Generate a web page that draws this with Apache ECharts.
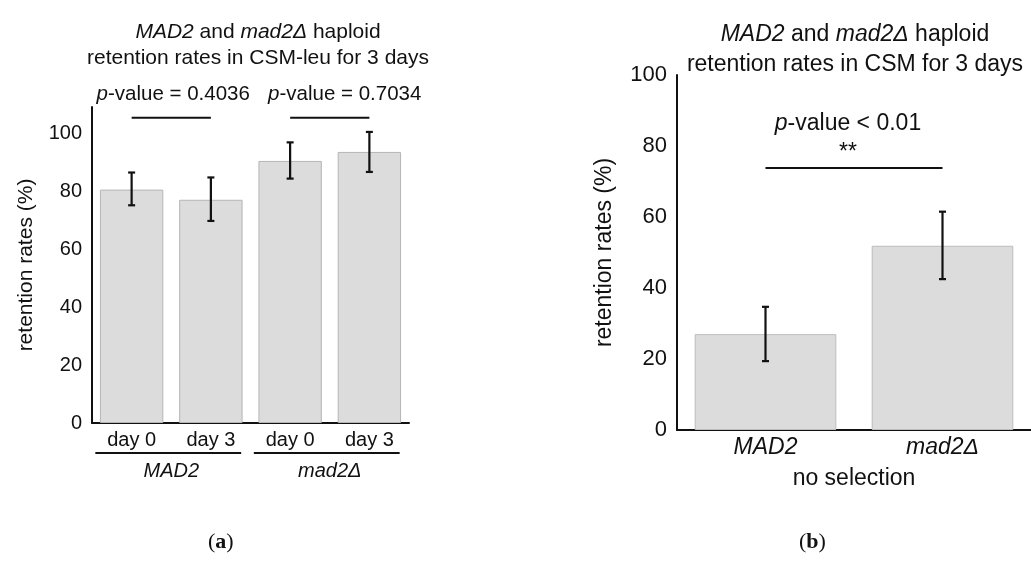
<!DOCTYPE html>
<html>
<head>
<meta charset="utf-8">
<script src="https://cdn.jsdelivr.net/npm/echarts@6/dist/echarts.min.js"></script>
<style>
  html, body { margin: 0; padding: 0; background: #fff; }
  #chart { width: 1031px; height: 562px; }
</style>
</head>
<body>
<div id="chart"></div>
<script>
// panel (a): CSM-leu
const leftCats = ['day 0', 'day 3', 'day 0', 'day 3'];
const leftGroups = ['MAD2', 'mad2Δ'];
const leftMeans = [80.5, 77, 90.4, 93.5];
const leftErrLow = [75.1, 69.7, 84.3, 86.6];
const leftErrHigh = [86.4, 84.7, 96.8, 100.4];
const leftPairs = [[0, 1], [2, 3]];
const leftPLevel = [105.3, 105.3];
const leftPText = ['= 0.4036', '= 0.7034'];

// panel (b): CSM, no selection
const rightCats = ['MAD2', 'mad2Δ'];
const rightMeans = [27, 51.9];
const rightErrLow = [19.4, 42.5];
const rightErrHigh = [34.7, 61.5];
const rightPairs = [[0, 1]];
const rightPLevel = [73.8];
const rightPText = ['< 0.01'];

const FONT = "'Liberation Sans', Arial, sans-serif";
const SERIF = "'Liberation Serif', 'DejaVu Serif', serif";
const INK = '#111';
const BAR = '#dcdcdc';

function errorBars(params, api) {
  const top = api.coord([api.value(0), api.value(2)]);
  const bot = api.coord([api.value(0), api.value(1)]);
  const w = 3.5;
  const st = { stroke: INK, lineWidth: 2.2 };
  return {
    type: 'group',
    children: [
      { type: 'line', shape: { x1: top[0], y1: top[1], x2: bot[0], y2: bot[1] }, style: st },
      { type: 'line', shape: { x1: top[0] - w, y1: top[1], x2: top[0] + w, y2: top[1] }, style: st },
      { type: 'line', shape: { x1: bot[0] - w, y1: bot[1], x2: bot[0] + w, y2: bot[1] }, style: st }
    ]
  };
}

function brackets(texts, fontSize, gap, shifts, stars) {
  return function (params, api) {
    const i = params.dataIndex;
    const a = api.coord([api.value(0), api.value(2)]);
    const b = api.coord([api.value(1), api.value(2)]);
    const mx = (a[0] + b[0]) / 2 + shifts[i];
    const children = [
      { type: 'line', shape: { x1: a[0], y1: a[1], x2: b[0], y2: b[1] }, style: { stroke: INK, lineWidth: 2 } },
      {
        type: 'text',
        style: {
          x: mx, y: a[1] - gap, text: '{i|p}-value ' + texts[i],
          fill: INK, fontSize: fontSize, fontFamily: FONT, align: 'center', verticalAlign: 'middle',
          rich: { i: { fontStyle: 'italic', fontSize: fontSize, fontFamily: FONT, fill: INK } }
        }
      }
    ];
    if (stars) {
      children.push({
        type: 'text',
        style: { x: mx, y: a[1] - 15, text: stars, fill: INK, fontSize: fontSize, fontFamily: FONT, align: 'center', verticalAlign: 'middle' }
      });
    }
    return { type: 'group', children: children };
  };
}

function groupLines(params, api) {
  const c = api.coord([api.value(0), 0]);
  const bw = api.size([1, 0])[0];
  const half = bw * 0.46;
  return {
    type: 'line',
    shape: { x1: c[0] - half - 3, y1: c[1] + 30, x2: c[0] + half - 3, y2: c[1] + 30 },
    style: { stroke: INK, lineWidth: 2 }
  };
}

const chart = echarts.init(document.getElementById('chart'));

const option = {
  animation: false,
  backgroundColor: '#fff',
  textStyle: { fontFamily: FONT, color: INK },
  title: [
    {
      text: '{i|MAD2} and {i|mad2Δ} haploid\nretention rates in CSM-leu for 3 days',
      left: 253, top: 14, textAlign: 'center',
      textStyle: {
        fontSize: 21, fontWeight: 'normal', fontFamily: FONT, color: INK, lineHeight: 26,
        rich: { i: { fontStyle: 'italic', fontSize: 21, fontFamily: FONT, color: INK, lineHeight: 26 } }
      }
    },
    {
      text: '{i|MAD2} and {i|mad2Δ} haploid\nretention rates in CSM for 3 days',
      left: 850, top: 15, textAlign: 'center',
      textStyle: {
        fontSize: 23, fontWeight: 'normal', fontFamily: FONT, color: INK, lineHeight: 30,
        rich: { i: { fontStyle: 'italic', fontSize: 23, fontFamily: FONT, color: INK, lineHeight: 30 } }
      }
    }
  ],
  grid: [
    { left: 92, right: 622, top: 107, bottom: 139 },
    { left: 677, right: 0, top: 75, bottom: 132 }
  ],
  xAxis: [
    {
      gridIndex: 0, type: 'category', data: leftCats,
      axisLine: { lineStyle: { color: INK, width: 2 } },
      axisTick: { show: false },
      axisLabel: { color: INK, fontSize: 20, fontFamily: FONT, margin: 7 }
    },
    {
      gridIndex: 0, type: 'category', data: leftGroups, position: 'bottom', offset: 30,
      axisLine: { show: false }, axisTick: { show: false },
      axisLabel: { color: INK, fontSize: 20, fontFamily: FONT, fontStyle: 'italic', margin: 8 }
    },
    {
      gridIndex: 1, type: 'category', data: rightCats,
      axisLine: { lineStyle: { color: INK, width: 2 } },
      axisTick: { show: false },
      axisLabel: { color: INK, fontSize: 23, fontFamily: FONT, fontStyle: 'italic', margin: 6 },
      name: 'no selection', nameLocation: 'middle', nameGap: 37,
      nameTextStyle: { color: INK, fontSize: 23, fontFamily: FONT }
    }
  ],
  yAxis: [
    {
      gridIndex: 0, type: 'value', min: 0, max: 109, interval: 20,
      axisLine: { show: true, lineStyle: { color: INK, width: 2 } },
      axisTick: { show: false }, splitLine: { show: false },
      axisLabel: {
        color: INK, fontSize: 20, fontFamily: FONT, margin: 10,
        formatter: function (v) { return v % 20 === 0 ? String(v) : ''; }
      },
      name: 'retention rates (%)', nameLocation: 'middle', nameGap: 55,
      nameTextStyle: { color: INK, fontSize: 21, fontFamily: FONT }
    },
    {
      gridIndex: 1, type: 'value', min: 0, max: 100, interval: 20,
      axisLine: { show: true, lineStyle: { color: INK, width: 2 } },
      axisTick: { show: false }, splitLine: { show: false },
      axisLabel: { color: INK, fontSize: 22, fontFamily: FONT, margin: 10 },
      name: 'retention rates (%)', nameLocation: 'middle', nameGap: 61,
      nameTextStyle: { color: INK, fontSize: 23, fontFamily: FONT }
    }
  ],
  series: [
    {
      type: 'bar', xAxisIndex: 0, yAxisIndex: 0, data: leftMeans, barCategoryGap: '20%',
      itemStyle: { color: BAR, borderColor: '#b5b5b5', borderWidth: 1 }
    },
    {
      type: 'custom', xAxisIndex: 0, yAxisIndex: 0, renderItem: errorBars, z: 5,
      data: leftMeans.map(function (m, i) { return [i, leftErrLow[i], leftErrHigh[i]]; }),
      encode: { x: 0, y: [1, 2] }
    },
    {
      type: 'custom', xAxisIndex: 0, yAxisIndex: 0, z: 5,
      renderItem: brackets(leftPText, 20.5, 23, [2, 15], null),
      data: leftPairs.map(function (p, i) { return [p[0], p[1], leftPLevel[i]]; }),
      encode: { x: [0, 1], y: 2 }
    },
    {
      type: 'custom', xAxisIndex: 1, yAxisIndex: 0, renderItem: groupLines,
      data: leftGroups.map(function (g, i) { return [i, 0]; }),
      encode: { x: 0, y: 1 }
    },
    {
      type: 'bar', xAxisIndex: 2, yAxisIndex: 1, data: rightMeans, barCategoryGap: '20%',
      itemStyle: { color: BAR, borderColor: '#bcbcbc', borderWidth: 1 }
    },
    {
      type: 'custom', xAxisIndex: 2, yAxisIndex: 1, renderItem: errorBars, z: 5,
      data: rightMeans.map(function (m, i) { return [i, rightErrLow[i], rightErrHigh[i]]; }),
      encode: { x: 0, y: [1, 2] }
    },
    {
      type: 'custom', xAxisIndex: 2, yAxisIndex: 1, z: 5,
      renderItem: brackets(rightPText, 23, 44, [-6], '**'),
      data: rightPairs.map(function (p, i) { return [p[0], p[1], rightPLevel[i]]; }),
      encode: { x: [0, 1], y: 2 }
    }
  ],
  graphic: [
    {
      type: 'text', left: 208, top: 531,
      style: {
        text: '({b|a})', fill: INK, fontSize: 22, fontFamily: SERIF,
        rich: { b: { fontWeight: 'bold', fontSize: 22, fontFamily: SERIF, fill: INK } }
      }
    },
    {
      type: 'text', left: 799, top: 531,
      style: {
        text: '({b|b})', fill: INK, fontSize: 22, fontFamily: SERIF,
        rich: { b: { fontWeight: 'bold', fontSize: 22, fontFamily: SERIF, fill: INK } }
      }
    }
  ]
};

chart.setOption(option);
</script>
</body>
</html>
